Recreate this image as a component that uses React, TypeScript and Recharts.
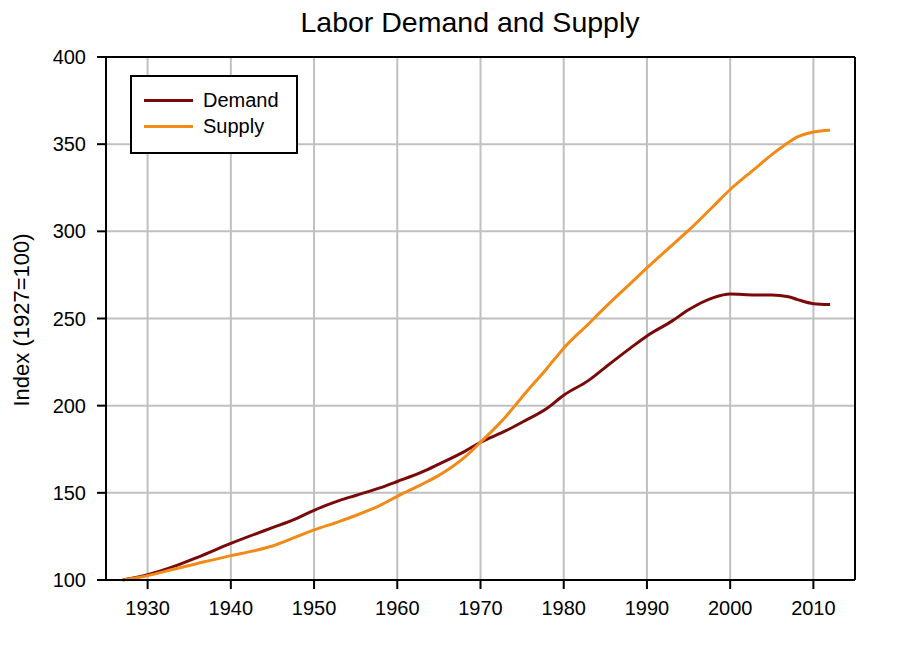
import React from "react";
import {
  LineChart,
  Line,
  XAxis,
  YAxis,
  CartesianGrid,
  ReferenceLine,
  Legend,
} from "recharts";

const years = [
  1927, 1930, 1933, 1936, 1940, 1943, 1945, 1948, 1950, 1953, 1955, 1958, 1960,
  1963, 1965, 1968, 1970, 1973, 1975, 1978, 1980, 1983, 1985, 1988, 1990, 1993,
  1995, 1998, 2000, 2003, 2005, 2007, 2008, 2010, 2012,
];

const demand = [
  100, 103, 107.5, 113, 121, 126.5, 130, 135.5, 140, 145.5, 148.5, 153, 156.5,
  162, 166.5, 173.5, 179, 185.5, 190.5, 198.5, 206, 214.5, 222, 233, 240, 248.5,
  255, 262, 264, 263.5, 263.5, 262.5, 261, 258.5, 258,
];

const supply = [
  100, 102.5, 106, 109.5, 114, 117, 119.5, 125, 128.7, 133.5, 137, 143, 148,
  155, 160, 170, 179, 193.5, 205, 221.5, 233, 247, 256.5, 270, 279, 292, 300.5,
  314.5, 324, 336, 344, 351, 354, 357, 358,
];

const xTicks = [1930, 1940, 1950, 1960, 1970, 1980, 1990, 2000, 2010];
const yTicks = [100, 150, 200, 250, 300, 350, 400];

const SERIES = [
  { key: "demand", name: "Demand", color: "#7a0a0a" },
  { key: "supply", name: "Supply", color: "#f28a17" },
];

const data = years.map((year, i) => ({
  year,
  demand: demand[i],
  supply: supply[i],
}));

const FONT = "'Liberation Sans', Arial, sans-serif";

function LegendBox() {
  return (
    <div
      style={{
        width: 168,
        height: 79,
        boxSizing: "border-box",
        border: "2px solid #000",
        background: "#fff",
        paddingTop: 10,
        fontFamily: FONT,
      }}
    >
      {SERIES.map((s) => (
        <div key={s.key} style={{ display: "flex", alignItems: "center", height: 26 }}>
          <span style={{ marginLeft: 12, width: 49, height: 3, background: s.color }} />
          <span style={{ marginLeft: 10, fontSize: 20, lineHeight: "26px", color: "#000" }}>
            {s.name}
          </span>
        </div>
      ))}
    </div>
  );
}

export default function App() {
  return (
    <div
      style={{
        position: "absolute",
        left: 0,
        top: 0,
        width: 899,
        height: 647,
        background: "#fff",
        fontFamily: FONT,
      }}
    >
      <LineChart
        width={899}
        height={647}
        data={data}
        margin={{ top: 57, right: 44, left: 0, bottom: 0 }}
      >
        <CartesianGrid stroke="#c0c0c0" strokeWidth={2} />
        <XAxis
          dataKey="year"
          type="number"
          domain={[1925, 2015]}
          ticks={xTicks}
          height={67}
          tickSize={9}
          tickMargin={12}
          axisLine={{ stroke: "#000", strokeWidth: 2 }}
          tickLine={{ stroke: "#000", strokeWidth: 2 }}
          tick={{ fill: "#000", fontSize: 20, fontFamily: FONT }}
        />
        <YAxis
          domain={[100, 400]}
          ticks={yTicks}
          width={106}
          tickSize={9}
          tickMargin={11}
          axisLine={{ stroke: "#000", strokeWidth: 2 }}
          tickLine={{ stroke: "#000", strokeWidth: 2 }}
          tick={{ fill: "#000", fontSize: 20, fontFamily: FONT }}
        />
        <ReferenceLine y={400} stroke="#000" strokeWidth={2} />
        <ReferenceLine x={2015} stroke="#000" strokeWidth={2} />
        {SERIES.map((s) => (
          <Line
            key={s.key}
            type="monotone"
            dataKey={s.key}
            name={s.name}
            stroke={s.color}
            strokeWidth={3}
            dot={false}
            activeDot={false}
            isAnimationActive={false}
          />
        ))}
        <Legend
          layout="vertical"
          align="center"
          verticalAlign="middle"
          content={() => <LegendBox />}
          wrapperStyle={{ left: 130, top: 75, width: 168, height: 79 }}
        />
      </LineChart>
      <svg
        width={899}
        height={647}
        style={{ position: "absolute", left: 0, top: 0, pointerEvents: "none" }}
      >
        <text
          x={470}
          y={32}
          textAnchor="middle"
          fontSize={28.5}
          fontFamily={FONT}
          fill="#000"
        >
          Labor Demand and Supply
        </text>
        <text
          transform="translate(29,320) rotate(-90)"
          textAnchor="middle"
          fontSize={22}
          fontFamily={FONT}
          fill="#000"
        >
          Index (1927=100)
        </text>
      </svg>
    </div>
  );
}
